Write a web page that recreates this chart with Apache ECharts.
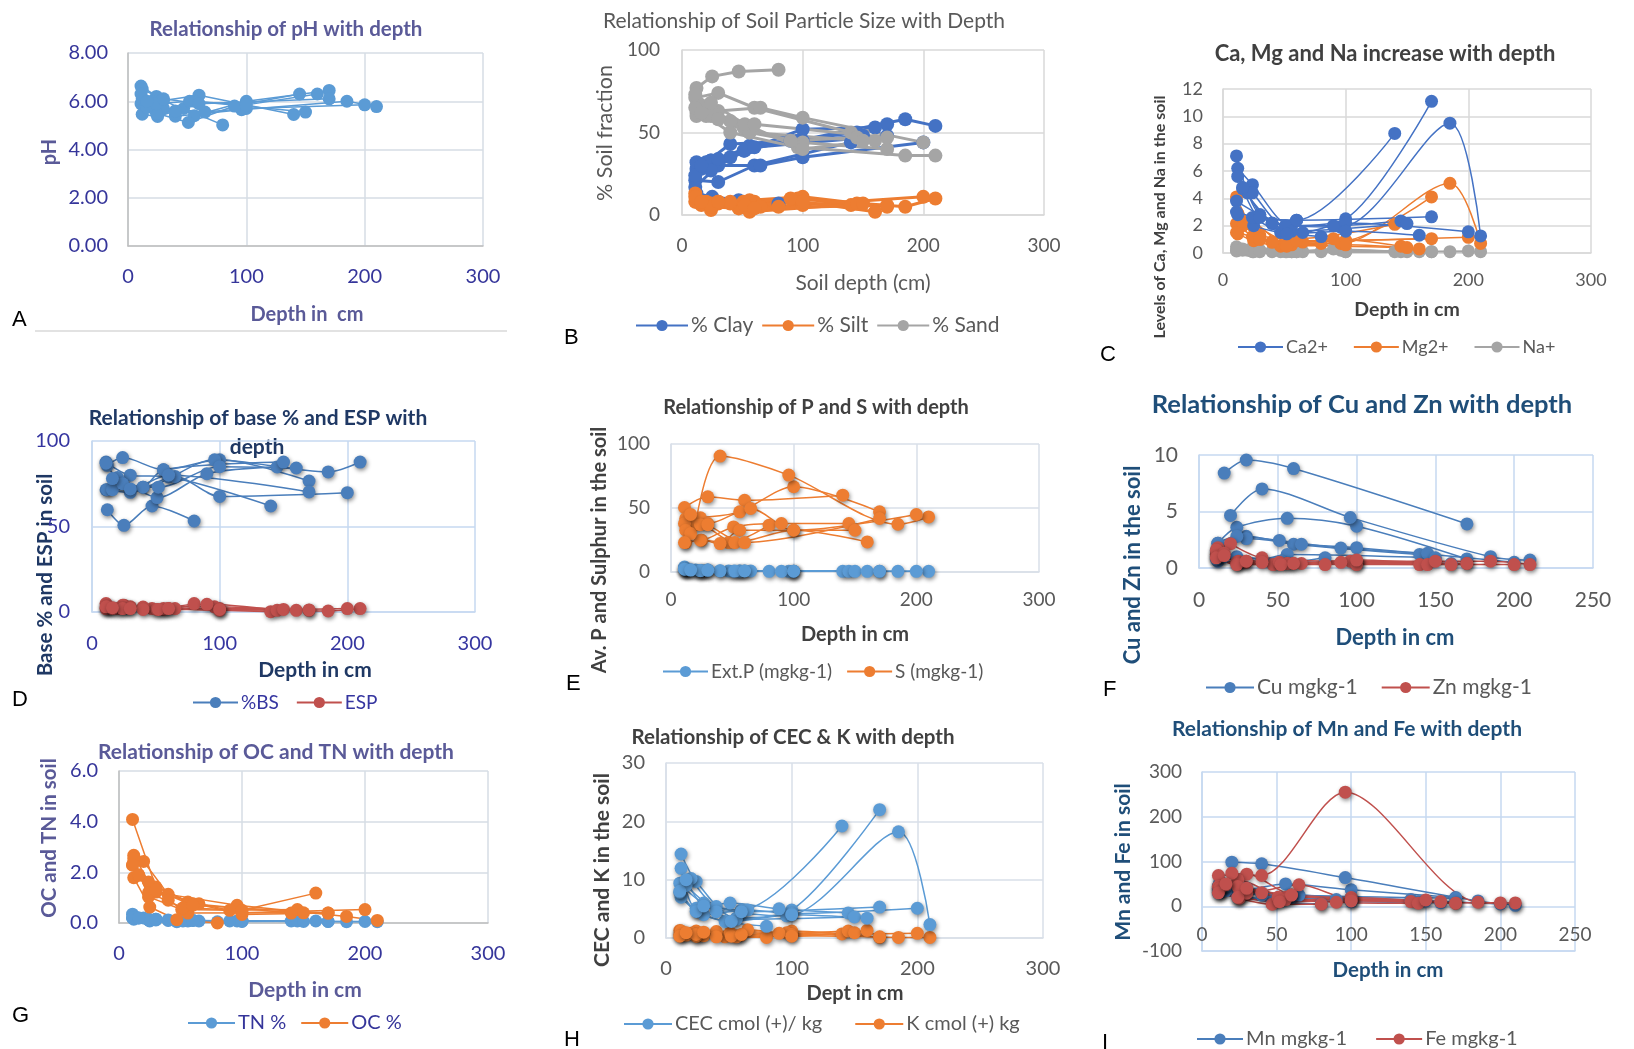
<!DOCTYPE html>
<html><head><meta charset="utf-8">
<script src="https://cdn.jsdelivr.net/npm/echarts/dist/echarts.min.js"></script>
<style>html,body{margin:0;padding:0;background:#fff}#c{width:1634px;height:1049px}</style>
</head><body><div id="c"></div>
<script>
// Horizon depths (cm) of the nine soil profiles
const profileDepths = [
  [12, 25, 47, 80],
  [11, 30, 60, 140],
  [12, 24, 56, 100, 170],
  [20, 40, 96, 185, 210],
  [11, 30, 65, 100, 200],
  [12, 24, 51, 90, 145],
  [16, 40, 56, 150],
  [11, 24, 52, 100, 160],
  [16, 30, 60, 170]
];
// A
const pH = [[5.46,5.37,5.70,5.02],[6.63,6.03,6.25,5.45],[6.50,6.20,5.40,6.00,6.45],[5.99,5.38,5.65,6.00,5.78],[5.90,5.70,5.55,5.70,5.85],[6.10,5.50,5.12,5.80,6.30],[5.75,5.60,6.00,5.55],[6.30,5.90,6.00,5.85,6.30],[6.00,6.10,5.90,6.10]];
// B
const clay = [[13,11,9,7],[21,20,30,44],[28,33,41,45,55],[32,43,45,58,54],[17,30,30,35,44],[32,33,39,45,50],[28,35,42,48],[24,27,39,52,53],[30,34,41,48]];
const silt = [[10,5,4,5],[8,8,8,6],[10,7,9,11,5],[8,7,10,5,10],[13,7,5,6,11],[8,3,8,10,7],[6,8,2,7],[11,5,6,8,2],[8,8,4,6]];
const sand = [[77,84,87,88],[71,74,65,50],[62,60,50,44,40],[60,50,41,36,36],[73,63,65,59,44],[60,64,53,45,47],[66,57,50,45],[65,68,55,40,45],[62,58,55,47]];
// C
const ca = [[2.8,2.0,1.5,1.2],[7.1,2.8,2.4,8.75],[6.2,5.0,2.0,2.5,11.1],[4.4,2.15,1.9,9.5,1.25],[3.8,2.8,1.5,2.2,1.55],[5.6,4.4,2.0,2.0,2.35],[4.7,2.2,1.6,2.15],[3.0,2.6,1.4,1.6,1.3],[4.8,2.6,2.4,2.65]];
const mg = [[1.4,0.9,0.5,0.7],[4.1,1.3,1.05,2.1],[2.9,2.15,0.8,0.9,4.1],[2.15,0.8,0.7,5.1,0.7],[2.15,1.0,0.8,0.9,1.15],[2.15,2.15,0.6,1.05,0.5],[2.0,0.8,0.6,0.4],[1.5,1.2,0.5,0.6,0.3],[2.3,1.0,0.9,1.05]];
const na = [[0.2,0.1,0.1,0.1],[0.45,0.2,0.1,0.1],[0.3,0.3,0.1,0.15,0.1],[0.2,0.1,0.2,0.1,0.1],[0.2,0.1,0.1,0.1,0.15],[0.3,0.4,0.1,0.3,0.1],[0.2,0.15,0.1,0.1],[0.15,0.1,0.1,0.1,0.1],[0.3,0.2,0.1,0.1]];
// D
const bs = [[59.8,50.7,62,53.2],[87.7,80,79,62],[85.8,90.3,83.2,89,76.6],[78.6,73,89,81.9,87.7],[71.5,70,79.3,67.6,69.8],[71.5,75,66.9,80.9,84.8],[71.5,73,83.2,87.7],[87,75,73,85,84.2],[78,72,80,70.2]];
const esp = [[3,4,2,4.9],[4.9,3,2,0.2],[3,3.9,1.5,2,1],[2,2.9,3,0.6,2],[2,2.5,2,1,2],[3,2,1.5,4.5,1],[2,1.5,2,1.5],[3,2,1.5,1.5,1],[2.5,2,2,1.2]];
// E
const extP = [[1.5,1.0,0.8,0.5],[3.9,1.5,0.8,0.5],[2,1.2,0.8,0.5,0.5],[1.5,0.8,0.5,0.5,0.5],[2.5,1.5,0.8,0.6,0.5],[2,1.0,0.6,0.5,0.5],[1.8,0.9,0.7,0.5],[2.2,1.1,0.7,0.6,0.5],[1.5,1.3,0.8,0.5]];
const sulphur = [[23,24.8,23,36.6],[50.4,58.7,56,60],[41.8,42.3,47,66.6,47],[37,90.6,75.7,37.3,43],[37.9,37.9,49.6,32.6,44.9],[32.6,24.8,35.2,37.9,37.9],[30,22.2,32.6,32.6],[23,37,23,32.6,23.5],[45,37,23,41.8]];
// F
const cu = [[0.6,0.5,0.4,0.9],[1.5,2.8,2.1,1.2],[2.2,3.6,4.4,3.7,0.8],[4.65,7.0,4.47,1.0,0.7],[1.0,2.6,2.1,1.8,0.5],[2.2,2.8,2.44,1.76,1.3],[1.0,0.8,1.2,0.9],[0.8,1.0,0.6,0.5,0.4],[8.4,9.56,8.8,3.9]];
const zn = [[1.5,0.6,0.3,0.3],[1.2,0.5,0.4,0.3],[1.8,0.5,0.4,0.5,0.4],[2.15,0.9,0.6,0.6,0.3],[1.6,0.6,0.4,0.3,0.3],[1.0,0.4,0.5,0.5,0.3],[1.3,0.5,0.4,0.6],[0.9,0.3,0.3,0.7,0.3],[1.1,0.6,0.4,0.4]];
// G
const tn = [[0.15,0.08,0.05,0.05],[0.35,0.15,0.1,0.08],[0.25,0.15,0.1,0.08,0.06],[0.2,0.12,0.08,0.05,0.05],[0.2,0.12,0.08,0.08,0.06],[0.25,0.15,0.1,0.08,0.08],[0.2,0.1,0.08,0.06],[0.2,0.12,0.08,0.06,0.08],[0.2,0.15,0.1,0.06]];
const oc = [[1.79,0.63,0.13,0.0],[4.09,1.42,0.76,0.39],[2.67,1.62,0.83,0.34,0.39],[2.43,1.13,0.7,0.26,0.1],[2.28,1.22,0.76,0.4,0.53],[2.54,1.03,0.53,0.5,0.53],[1.88,0.9,0.39,0.4],[2.3,1.2,0.6,0.5,1.18],[1.9,1.3,0.7,0.39]];
// H
const cec = [[7,4.5,2.85,2.0],[9.4,6,4.8,19.2],[14.4,9.7,3.4,4.8,22],[10.2,5.4,3.8,18.2,2.3],[7.8,4,4.8,4.2,5.1],[11.95,5.1,6,5,4.3],[9,4.5,3.2,3.6],[8,4.55,2.85,4,3.4],[10,5.5,4.5,5.3]];
const kk = [[0.5,0.3,0.2,0.1],[1.3,0.8,0.5,0.7],[1.0,1.2,0.4,1.2,0.1],[0.8,1.1,0.9,0.1,0.1],[0.6,0.4,1.4,0.6,0.8],[1.2,0.3,0.9,0.8,1.2],[0.5,0.2,0.2,0.9],[0.3,0.6,0.3,0.3,1.3],[0.9,1.0,0.6,0.2]];
// I
const mn = [[30,20,10,5],[45,40,20,15],[55,35,50,36.6,19.4],[98.5,94.8,64,12,2],[40,30,25,20,5],[50,25,15,15,10],[35,25,20,12],[30,20,15,10,8],[45,35,25,18]];
const fe = [[36.6,17.9,4.5,4.5],[68.7,71.6,25.4,10.4],[44,59,20,19.4,6.7],[73.9,68.7,255,9,7.5],[44,29,47.8,15,7.5],[40,44,20,9,6.7],[47.8,30,15,14],[30,20,10,12,10.4],[50,40,25,6.7]];

const FF = 'Lato, "DejaVu Sans", sans-serif';
const chart = echarts.init(document.getElementById('c'), null, {renderer: 'canvas'});

// panel layouts
const P = [
  {g:[128,53,355,193], xmax:300, xi:100, ymin:0, ymax:8, yi:2, dec:2, tick:'#35359a', fs:20, grid:'#d6dce5', axis:'#bfbfbf', xm:21, ym:20},
  {g:[682,50,362,165], xmax:300, xi:100, ymin:0, ymax:100, yi:50, dec:0, tick:'#595959', fs:19, grid:'#d9d9d9', axis:'#d9d9d9', xm:21, ym:22},
  {g:[1223,89,368,164], xmax:300, xi:100, ymin:0, ymax:12, yi:2, dec:0, tick:'#595959', fs:18, grid:'#d9d9d9', axis:'#d9d9d9', xm:18, ym:20},
  {g:[92,441,383,171], xmax:300, xi:100, ymin:0, ymax:100, yi:50, dec:0, tick:'#3535a0', fs:20, grid:'#c6d9f1', axis:'#c6d9f1', xm:22, ym:22},
  {g:[671,444,368,128], xmax:300, xi:100, ymin:0, ymax:100, yi:50, dec:0, tick:'#595959', fs:19, grid:'#d9dfe8', axis:'#d9dfe8', xm:18, ym:21},
  {g:[1199,455,394,113], xmax:250, xi:50, ymin:0, ymax:10, yi:5, dec:0, tick:'#595959', fs:21, grid:'#c6d9f1', axis:'#c6d9f1', xm:22, ym:21},
  {g:[119,771,369,152], xmax:300, xi:100, ymin:0, ymax:6, yi:2, dec:1, tick:'#35359a', fs:20, grid:'#d6dce5', axis:'#bfbfbf', xm:21, ym:21},
  {g:[666,763,377,175], xmax:300, xi:100, ymin:0, ymax:30, yi:10, dec:0, tick:'#595959', fs:20, grid:'#d9dfe8', axis:'#d9dfe8', xm:21, ym:21},
  {g:[1202,772,373,179], xmax:250, xi:50, ymin:-100, ymax:300, yi:100, dec:0, tick:'#595959', fs:19, grid:'#c6d9f1', axis:'#c6d9f1', xm:-26, ym:20}
];

const grids = [], xAxes = [], yAxes = [];
P.forEach((p, i) => {
  grids.push({left:p.g[0], top:p.g[1], width:p.g[2], height:p.g[3], containLabel:false});
  xAxes.push({gridIndex:i, type:'value', min:0, max:p.xmax, interval:p.xi,
    axisLine:{show:true, onZero:false, lineStyle:{color:p.axis, width:1.5}}, axisTick:{show:false},
    splitLine:{show:true, lineStyle:{color:p.grid, width:1.5}},
    axisLabel:{color:p.tick, fontSize:p.fs, fontFamily:FF, margin:p.xm}});
  yAxes.push({gridIndex:i, type:'value', min:p.ymin, max:p.ymax, interval:p.yi,
    axisLine:{show:true, onZero:false, lineStyle:{color:p.axis, width:1.5}}, axisTick:{show:false},
    splitLine:{show:true, lineStyle:{color:p.grid, width:1.5}},
    axisLabel:{color:p.tick, fontSize:p.fs, fontFamily:FF, margin:p.ym,
      formatter: v => p.dec ? v.toFixed(p.dec) : String(v)}});
});

const series = [];
function addVar(name, values, gi, color, opt) {
  opt = opt || {};
  profileDepths.forEach((depths, k) => {
    const s = {
      type:'line', name:name, xAxisIndex:gi, yAxisIndex:gi,
      data: depths.map((d, j) => [d, values[k][j]]),
      symbol:'circle', symbolSize: opt.size || 13,
      smooth: opt.smooth || false,
      lineStyle:{color:color, width: opt.lw || 1.5},
      itemStyle:{color:color},
      emphasis:{disabled:true}
    };
    if (opt.shadow) {
      s.itemStyle.shadowColor = 'rgba(0,0,0,0.45)';
      s.itemStyle.shadowBlur = 4;
      s.itemStyle.shadowOffsetY = 2;
      s.itemStyle.shadowOffsetX = 1;
    }
    series.push(s);
  });
}
addVar('pH', pH, 0, '#5b9bd5', {});
addVar('% Clay', clay, 1, '#4472c4', {lw:3, size:14});
addVar('% Silt', silt, 1, '#ed7d31', {lw:3, size:14});
addVar('% Sand', sand, 1, '#a5a5a5', {lw:3, size:14});
addVar('Na+', na, 2, '#a5a5a5', {smooth:0.3});
addVar('Mg2+', mg, 2, '#ed7d31', {smooth:0.3});
addVar('Ca2+', ca, 2, '#4472c4', {smooth:0.3});
addVar('%BS', bs, 3, '#4a7ebb', {smooth:0.3, shadow:true});
addVar('ESP', esp, 3, '#c0504d', {smooth:0.3, shadow:true});
addVar('S (mgkg-1)', sulphur, 4, '#ed7d31', {smooth:0.3, shadow:true});
addVar('Ext.P (mgkg-1)', extP, 4, '#5b9bd5', {smooth:0.3, shadow:true});
addVar('Cu mgkg-1', cu, 5, '#4a7ebb', {smooth:0.3, shadow:true});
addVar('Zn mgkg-1', zn, 5, '#c0504d', {smooth:0.3, shadow:true});
addVar('TN %', tn, 6, '#5b9bd5', {});
addVar('OC %', oc, 6, '#ed7d31', {});
addVar('K cmol (+) kg', kk, 7, '#ed7d31', {smooth:0.3, shadow:true});
addVar('CEC cmol (+)/ kg', cec, 7, '#5b9bd5', {smooth:0.3, shadow:true});
addVar('Mn mgkg-1', mn, 8, '#4a7ebb', {smooth:0.3, shadow:true});
addVar('Fe mgkg-1', fe, 8, '#c0504d', {smooth:0.3, shadow:true});

function lg(names, left, top, iw, gap, fs, color) {
  return {data:names, left:left, top:top, itemWidth:iw, itemHeight:14, itemGap:gap,
    selectedMode:false, textStyle:{color:color, fontSize:fs, fontFamily:FF, padding:[0,0,0,-2]}};
}
const legends = [
  lg(['% Clay','% Silt','% Sand'], 630, 310, 52, 8, 21, '#595959'),
  lg(['Ca2+','Mg2+','Na+'], 1232, 333, 45, 25, 18, '#595959'),
  lg(['%BS','ESP'], 187, 688, 45, 17, 19, '#3535a0'),
  lg(['Ext.P (mgkg-1)','S (mgkg-1)'], 657, 657, 45, 14, 19, '#595959'),
  lg(['Cu mgkg-1','Zn mgkg-1'], 1200, 672, 48, 23, 21, '#595959'),
  lg(['TN %','OC %'], 182, 1008, 47, 14, 20, '#35359a'),
  lg(['CEC cmol (+)/ kg','K cmol (+) kg'], 618, 1009, 48, 32, 20, '#595959'),
  lg(['Mn mgkg-1','Fe mgkg-1'], 1191, 1024, 46, 28, 20, '#595959')
];

function txt(x, y, t, fs, w, c, rot) {
  return {type:'text', x:x, y:y, rotation: rot ? Math.PI/2 : 0, silent:true,
    style:{text:t, fontSize:fs, fontWeight:w, fill:c, fontFamily:FF, textAlign:'center', textVerticalAlign:'middle'}};
}
function letter(x, y, t) {
  return {type:'text', x:x, y:y, silent:true,
    style:{text:t, fontSize:22, fill:'#000', fontFamily:'"Liberation Sans", Arial, sans-serif', textAlign:'left', textVerticalAlign:'top'}};
}
const PU = '#5a5a98', NAVY = '#1f3864', DG = '#404040', SB = '#1f4e79';
const graphics = [
  // titles
  txt(286, 29, 'Relationship of pH with depth', 20.5, 'bold', PU),
  txt(804, 21, 'Relationship of Soil Particle Size with Depth', 21, 'normal', '#595959'),
  txt(1385, 54, 'Ca, Mg and Na increase with depth', 22, 'bold', DG),
  txt(258, 418, 'Relationship of base % and ESP with', 21, 'bold', NAVY),
  txt(257, 447, 'depth', 21, 'bold', NAVY),
  txt(816, 408, 'Relationship of P and S with depth', 20, 'bold', DG),
  txt(1362, 405, 'Relationship of Cu and Zn with depth', 25.5, 'bold', SB),
  txt(276, 752, 'Relationship of OC and TN with depth', 21, 'bold', PU),
  txt(793, 737, 'Relationship of CEC & K with depth', 20.5, 'bold', DG),
  txt(1347, 729, 'Relationship of Mn and Fe with depth', 21, 'bold', SB),
  // x-axis names
  txt(307, 315, 'Depth in  cm', 20, 'bold', PU),
  txt(863, 283, 'Soil depth (cm)', 21, 'normal', '#595959'),
  txt(1407, 310, 'Depth in cm', 19.5, 'bold', DG),
  txt(315, 670, 'Depth in cm', 21, 'bold', NAVY),
  txt(855, 635, 'Depth in cm', 20, 'bold', DG),
  txt(1395, 638, 'Depth in cm', 22, 'bold', SB),
  txt(305, 990, 'Depth in cm', 21, 'bold', PU),
  txt(855, 994, 'Dept in cm', 20, 'bold', DG),
  txt(1388, 970, 'Depth in cm', 20.5, 'bold', SB),
  // y-axis names
  txt(50, 152, 'pH', 20, 'bold', PU, true),
  txt(605, 133, '% Soil fraction', 21.5, 'normal', '#595959', true),
  txt(1160, 217, 'Levels of Ca, Mg and Na in the soil', 16, 'bold', DG, true),
  txt(45, 575, 'Base % and ESP in soil', 20.5, 'bold', NAVY, true),
  txt(600, 550, 'Av. P and Sulphur in the soil', 20, 'bold', DG, true),
  txt(1133, 565, 'Cu and Zn in the soil', 22, 'bold', SB, true),
  txt(49, 838, 'OC and TN in soil', 20.5, 'bold', PU, true),
  txt(602, 870, 'CEC and K in the soil', 21, 'bold', DG, true),
  txt(1123, 862, 'Mn and Fe in soil', 21, 'bold', SB, true),
  // panel letters
  letter(12, 309, 'A'), letter(564, 327, 'B'), letter(1100, 344, 'C'),
  letter(12, 689, 'D'), letter(566, 673, 'E'), letter(1103, 679, 'F'),
  letter(12, 1005, 'G'), letter(564, 1029, 'H'), letter(1102, 1032, 'I'),
  {type:'line', silent:true, shape:{x1:35, y1:331, x2:507, y2:331}, style:{stroke:'#d9d9d9', lineWidth:1.5}}
];

chart.setOption({
  animation:false,
  backgroundColor:'#ffffff',
  grid:grids, xAxis:xAxes, yAxis:yAxes,
  legend:legends,
  series:series,
  graphic:graphics
});
</script>
</body></html>
